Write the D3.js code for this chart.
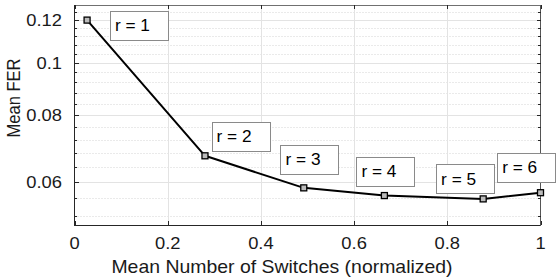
<!DOCTYPE html>
<html>
<head>
<meta charset="utf-8">
<script src="https://cdn.jsdelivr.net/npm/d3@7"></script>
<style>
  html, body { margin: 0; padding: 0; background: #fff; }
  svg { display: block; font-family: "Liberation Sans", Arial, Helvetica, sans-serif; }
</style>
</head>
<body>
<svg id="chart" width="556" height="278"></svg>
<script>
// ── DATA ────────────────────────────────────────────────────
const rValues  = [1, 2, 3, 4, 5, 6];
const switches = [0.027, 0.280, 0.492, 0.665, 0.877, 1.000];
const meanFER  = [0.1200, 0.0672, 0.0586, 0.0567, 0.0559, 0.0574];
// annotation anchors (data space: box left edge, vertical centre)
const labelX = [0.076, 0.294, 0.442, 0.605, 0.776, 0.907];
const labelY = [0.1175, 0.0729, 0.0662, 0.0629, 0.0609, 0.0640];

const xTicks = [0, 0.2, 0.4, 0.6, 0.8, 1];
const xTickLabels = ['0', '0.2', '0.4', '0.6', '0.8', '1'];
const yTicks = [0.06, 0.08, 0.1, 0.12];
const yTickLabels = ['0.06', '0.08', '0.1', '0.12'];
const yMinor = [0.052, 0.056, 0.064, 0.068, 0.072, 0.076, 0.084, 0.088,
                0.092, 0.096, 0.104, 0.108, 0.112, 0.116, 0.124];

// ── SETUP ───────────────────────────────────────────────────
const L = 74.5, R = 540.5, T = 5, B = 225;
const SX = 1.08;            // horizontal text stretch seen in the reference
const svg = d3.select('#chart');

const x = d3.scaleLinear().domain([0, 1]).range([L, R]);
const y = d3.scaleLog().domain([0.05, 0.128]).range([B, T]);

const FONT = 17;

// stretched horizontal text helper
function htext(parent, px, py, str, size, anchor) {
  return parent.append('text')
    .attr('transform', `translate(${px},${py}) scale(${SX},1)`)
    .attr('text-anchor', anchor || 'start')
    .attr('font-size', size)
    .attr('fill', '#1a1a1a')
    .text(str);
}

// grid
const grid = svg.append('g');
grid.selectAll('.minor')
  .data(yMinor)
  .join('line')
  .attr('x1', L).attr('x2', R)
  .attr('y1', d => Math.round(y(d)) + 0.5).attr('y2', d => Math.round(y(d)) + 0.5)
  .attr('stroke', '#d4d4d4')
  .attr('stroke-width', 1)
  .attr('stroke-dasharray', '1,2');

grid.selectAll('.ymaj')
  .data(yTicks)
  .join('line')
  .attr('x1', L).attr('x2', R)
  .attr('y1', d => Math.round(y(d)) + 0.5).attr('y2', d => Math.round(y(d)) + 0.5)
  .attr('stroke', '#e3e3e3')
  .attr('stroke-width', 1);

grid.selectAll('.xmaj')
  .data(xTicks.slice(1, -1))
  .join('line')
  .attr('x1', d => Math.round(x(d)) + 0.5).attr('x2', d => Math.round(x(d)) + 0.5)
  .attr('y1', T).attr('y2', B)
  .attr('stroke', '#e3e3e3')
  .attr('stroke-width', 1);

// ── AXES (box, inward ticks) ────────────────────────────────
const axisG = svg.append('g').attr('stroke', '#262626').attr('shape-rendering', 'crispEdges');
axisG.append('line').attr('x1', L).attr('x2', L).attr('y1', T).attr('y2', B + 0.5);
axisG.append('line').attr('x1', L).attr('x2', R).attr('y1', B + 0.5).attr('y2', B + 0.5);
axisG.append('line').attr('x1', L).attr('x2', R).attr('y1', T).attr('y2', T).attr('stroke', '#707070');
axisG.append('line').attr('x1', R).attr('x2', R).attr('y1', T).attr('y2', B + 0.5).attr('stroke', '#555');

xTicks.forEach(v => {
  const px = Math.round(x(v)) + 0.5;
  axisG.append('line').attr('x1', px).attr('x2', px).attr('y1', B).attr('y2', B - 4);
  axisG.append('line').attr('x1', px).attr('x2', px).attr('y1', T).attr('y2', T + 4);
});
yTicks.forEach(v => {
  const py = Math.round(y(v)) + 0.5;
  axisG.append('line').attr('x1', L).attr('x2', L + 4).attr('y1', py).attr('y2', py);
  axisG.append('line').attr('x1', R).attr('x2', R - 4).attr('y1', py).attr('y2', py);
});
yMinor.forEach(v => {
  const py = Math.round(y(v)) + 0.5;
  axisG.append('line').attr('x1', L).attr('x2', L + 2.5).attr('y1', py).attr('y2', py);
  axisG.append('line').attr('x1', R).attr('x2', R - 2.5).attr('y1', py).attr('y2', py);
});

// tick labels
const xtg = svg.append('g');
xTicks.forEach((v, i) => htext(xtg, x(v), 249, xTickLabels[i], FONT, 'middle'));

const ytg = svg.append('g');
yTicks.forEach((v, i) => htext(ytg, 62, y(v) + 6, yTickLabels[i], FONT, 'end'));

// axis titles
htext(svg, 282, 273, 'Mean Number of Switches (normalized)', 18, 'middle');

svg.append('text')
  .attr('transform', `translate(20,98) scale(${SX},1) rotate(-90)`)
  .attr('text-anchor', 'middle')
  .attr('font-size', 16.5)
  .attr('fill', '#1a1a1a')
  .text('Mean FER');

// ── SERIES ──────────────────────────────────────────────────
const pts = switches.map((s, i) => [s, meanFER[i]]);
svg.append('path')
  .datum(pts)
  .attr('fill', 'none')
  .attr('stroke', '#000')
  .attr('stroke-width', 2)
  .attr('stroke-linejoin', 'round')
  .attr('d', d3.line().x(d => x(d[0])).y(d => y(d[1])));

svg.append('g').selectAll('rect')
  .data(pts)
  .join('rect')
  .attr('x', d => x(d[0]) - 3).attr('y', d => y(d[1]) - 3)
  .attr('width', 6).attr('height', 6)
  .attr('fill', '#bbb')
  .attr('stroke', '#000')
  .attr('stroke-width', 1.3);

// ── ANNOTATIONS ─────────────────────────────────────────────
rValues.forEach((r, i) => {
  const g = svg.append('g');
  const bx = x(labelX[i]);
  const cy = y(labelY[i]);
  const rect = g.append('rect');
  const t = htext(g, bx + 5, cy + 5.7, `r = ${r}`, 16);
  t.attr('fill', '#000');
  const w = t.node().getBBox().width * SX + 23;
  rect.attr('x', Math.round(bx) + 0.5).attr('y', Math.round(cy - 14.5) + 0.5)
    .attr('width', Math.round(w)).attr('height', 29)
    .attr('fill', '#fff')
    .attr('stroke', '#8a8a8a')
    .attr('stroke-width', 1);
});
</script>
</body>
</html>
